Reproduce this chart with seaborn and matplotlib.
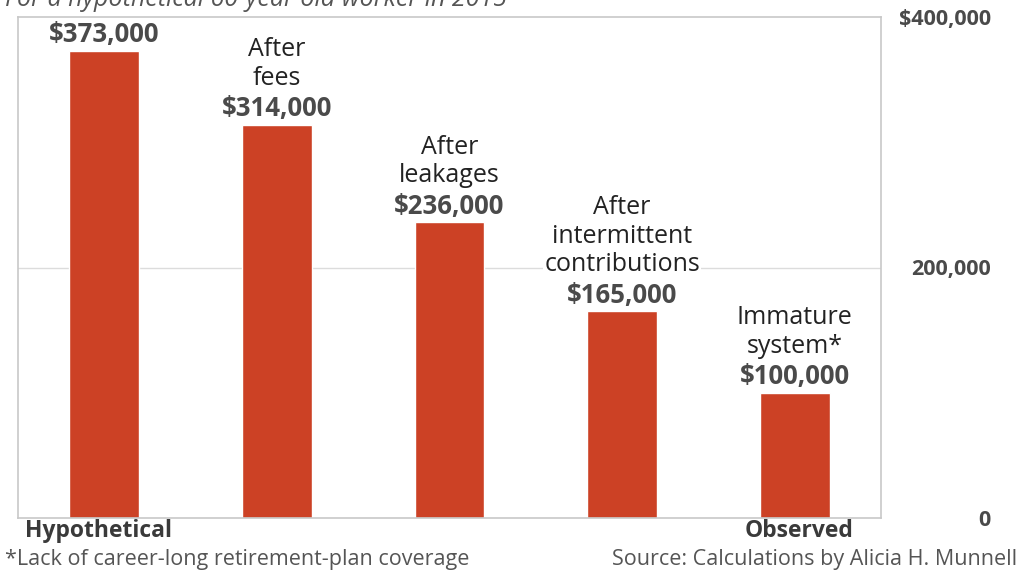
import matplotlib
matplotlib.use("Agg")
import matplotlib.pyplot as plt
import seaborn as sns
import pandas as pd

categories = ["Hypothetical", "After fees", "After leakages", "After intermittent contributions", "Immature system"]
values = [373000, 314000, 236000, 165000, 100000]
bar_labels = ["", "After\nfees", "After\nleakages", "After\nintermittent\ncontributions", "Immature\nsystem*"]
value_labels = ["$373,000", "$314,000", "$236,000", "$165,000", "$100,000"]
tick_values = [0, 200000, 400000]
tick_labels = ["0", "200,000", "$400,000"]

sns.set_theme(style="white")
plt.rcParams['font.family'] = ['Open Sans', 'DejaVu Sans']

df = pd.DataFrame({"cat": categories, "val": values})

fig = plt.figure(figsize=(10.21, 5.71), dpi=100)
ax = fig.add_axes([18/1021, 1-518/571, 863/1021, 501/571])

sns.barplot(data=df, x="cat", y="val", color="#cc4125", width=0.405, saturation=1, ax=ax, zorder=2)

ax.set_xlim(-0.5, 4.5)
ax.set_ylim(0, 400000)
ax.set_xlabel("")
ax.set_ylabel("")
ax.set_xticks([])
ax.yaxis.tick_right()
ax.set_yticks(tick_values)
ax.set_yticklabels(tick_labels, fontsize=15.5, fontweight="bold", color="#4a4a4a")
for lab in ax.get_yticklabels():
    lab.set_horizontalalignment("right")
ax.tick_params(axis="y", length=0, pad=79)
ax.axhline(200000, color="#dcdcdc", lw=1, zorder=0)
for s in ax.spines.values():
    s.set_color("#c8c8c8")
    s.set_linewidth(1.2)

for i, (v, vl, bl) in enumerate(zip(values, value_labels, bar_labels)):
    ax.annotate(vl, (i, v), xytext=(0, 11.5), textcoords="offset points", ha="center", va="center",
                fontsize=18.5, fontweight="bold", color="#4a4a4a", zorder=3,
                bbox=dict(facecolor="white", edgecolor="none", pad=0.5))
    if bl:
        ax.annotate(bl, (i, v), xytext=(0, 24.5), textcoords="offset points", ha="center", va="bottom",
                    fontsize=18, color="#222222", linespacing=1.18, zorder=3,
                    bbox=dict(facecolor="white", edgecolor="none", pad=0.5))

fig.text(25/1021, 1-531/571, "Hypothetical", ha="left", va="center", fontsize=16.5, fontweight="bold", color="#3a3a3a")
fig.text(853/1021, 1-531/571, "Observed", ha="right", va="center", fontsize=16.5, fontweight="bold", color="#3a3a3a")
fig.text(5/1021, 1-560/571, "*Lack of career-long retirement-plan coverage", ha="left", va="center", fontsize=15.5, color="#555555")
fig.text(1017/1021, 1-560/571, "Source: Calculations by Alicia H. Munnell", ha="right", va="center", fontsize=15.5, color="#555555")
fig.text(5/1021, 1-6/571, "For a hypothetical 60-year old worker in 2015", ha="left", va="baseline", fontsize=18, style="italic", color="#555555")

fig.savefig("out.png", dpi=100)
